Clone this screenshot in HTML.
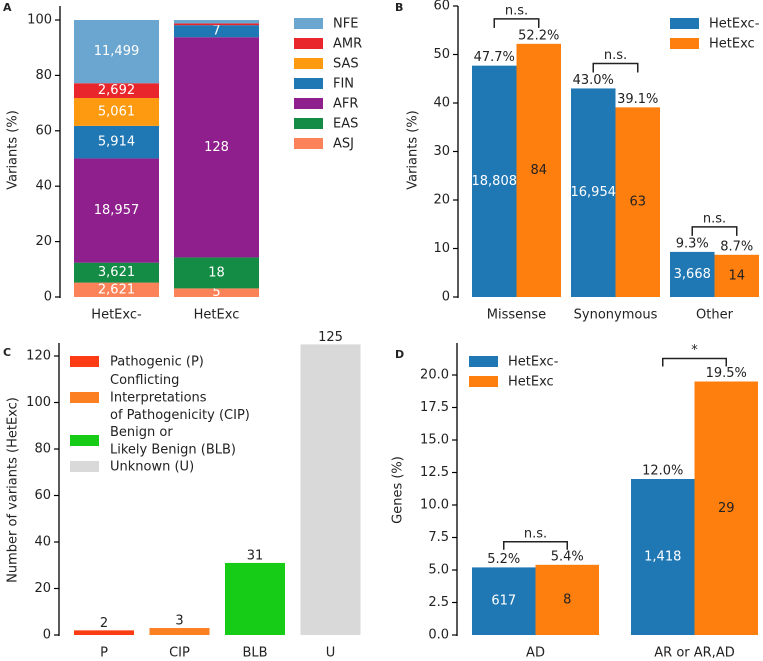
<!DOCTYPE html>
<html><head><meta charset="utf-8"><style>
body{margin:0;background:#fff}
svg{display:block;font-family:"DejaVu Sans","Liberation Sans",sans-serif}
</style></head><body>
<svg id="s" width="763" height="661" viewBox="0 0 763 661"></svg>
<script>
// Panel A data
const popNames=["ASJ","EAS","AFR","FIN","SAS","AMR","NFE"];
const popColors=["#fc8359","#148c45","#8e1f8c","#1f77b4","#fd9a0f","#e8262b","#6aa6cf"];
const groupsA=["HetExc-","HetExc"];
const countsNeg=[2621,3621,18957,5914,5061,2692,11499];
const countsPos=[5,18,128,7,0,1,2];
const showPos=[true,true,true,true,false,false,false];
// Panel B data
const catsB=["Missense","Synonymous","Other"];
const pctNegB=[47.7,43.0,9.3];
const pctPosB=[52.2,39.1,8.7];
const cntNegB=["18,808","16,954","3,668"];
const cntPosB=["84","63","14"];
const sigB=["n.s.","n.s.","n.s."];
const ticksB=[0,10,20,30,40,50,60];
// Panel C data
const catsC=["P","CIP","BLB","U"];
const valsC=[2,3,31,125];
const colC=["#fb3c14","#fc7f22","#16cc16","#d9d9d9"];
const ticksC=[0,20,40,60,80,100,120];
// Panel D data
const catsD=["AD","AR or AR,AD"];
const pctNegD=[5.2,12.0];
const pctPosD=[5.4,19.5];
const cntNegD=["617","1,418"];
const cntPosD=["8","29"];
const sigD=["n.s.","*"];
const ticksD=[0,2.5,5,7.5,10,12.5,15,17.5,20];
const ticksA=[0,20,40,60,80,100];

const S=document.getElementById('s');
const NS="http://www.w3.org/2000/svg";
function el(t,a,txt){const e=document.createElementNS(NS,t);for(const k in a)e.setAttribute(k,a[k]);if(txt!==undefined)e.textContent=txt;S.appendChild(e);return e;}
function txt(x,y,s,o){o=o||{};const e=el('text',{x:x,y:y,'font-size':o.fs||13,fill:o.fill||'#222','text-anchor':o.a||'middle','dominant-baseline':o.b||'middle','font-weight':o.w||'normal'},s);if(o.rot)e.setAttribute('transform','rotate(-90 '+x+' '+y+')');return e;}
function yaxis(x,y0,y1,ticks,scale,fmt,name){
  const l=el('line',{x1:x,y1:y0+1,x2:x,y2:y1,stroke:'#000','stroke-width':1.3});
  
  ticks.forEach(t=>{const y=scale(t);el('line',{x1:x-5,y1:y,x2:x,y2:y,stroke:'#000','stroke-width':1.2});
    const tt=txt(x-8,y,fmt(t),{a:'end'});});
}
function rect(x,y,w,h,c,name){const r=el('rect',{x:x,y:y,width:w,height:Math.max(0,h),fill:c});return r;}
function bracket(x1,x2,yTop,yTip,label,name){
  const p=el('path',{d:`M${x1},${yTip}V${yTop}H${x2}V${yTip}`,fill:'none',stroke:'#222','stroke-width':1.5});
  
  txt((x1+x2)/2,yTop-8,label);
}
// Panel letters
[['A',3,8],['B',395,8],['C',3,353],['D',395,355]].forEach(p=>{const t=txt(p[1],p[2],p[0],{a:'start',w:'bold',fs:11});});

// ---- Panel A ----
const yA=v=>297-v*2.77;
yaxis(60,297,6,ticksA,yA,v=>v,'panel-a');
txt(13,150,'Variants (%)',{rot:1});
[countsNeg,countsPos].forEach((cs,gi)=>{
  const tot=cs.reduce((a,b)=>a+b,0);const x=74+gi*100,w=85;let cum=0;
  cs.forEach((c,i)=>{const p=c/tot*100;const yt=yA(cum+p),yb=yA(cum);
    if(c>0)rect(x,yt,w,yb-yt,popColors[i],'bar-a-'+groupsA[gi].toLowerCase()+'-'+popNames[i].toLowerCase());
    if(c>0&&(gi==0||showPos[i])){const t=txt(x+w/2,(yt+yb)/2,c.toLocaleString('en-US'),{fill:'#fff'});}
    cum+=p;});
  txt(x+w/2,315,groupsA[gi]);
});
popNames.slice().reverse().forEach((n,i)=>{const c=popColors[popNames.length-1-i];const y=24+i*20;
  const r=rect(294,y-6,29,11,c,'legend-swatch-'+n.toLowerCase());
  const t=txt(333,y,n,{a:'start'});});

// ---- Panel B ----
const yB=v=>297-v*4.85;
yaxis(458,297,6,ticksB,yB,v=>v,'panel-b');
txt(413,150,'Variants (%)',{rot:1});
catsB.forEach((c,i)=>{const x=472+i*99,w=44.5;
  rect(x,yB(pctNegB[i]),w,yB(0)-yB(pctNegB[i]),'#1f77b4','bar-b-hetexc-neg-'+c.toLowerCase());
  rect(x+w,yB(pctPosB[i]),w,yB(0)-yB(pctPosB[i]),'#ff7f0e','bar-b-hetexc-'+c.toLowerCase());
  txt(x+w/2,yB(pctNegB[i])-8,pctNegB[i].toFixed(1)+'%');
  txt(x+w*1.5,yB(pctPosB[i])-8,pctPosB[i].toFixed(1)+'%');
  txt(x+w/2,yB(pctNegB[i]/2),cntNegB[i],{fill:'#fff'});
  txt(x+w*1.5,yB(pctPosB[i]/2),cntPosB[i],{fill:'#222'});
  const top=yB(Math.max(pctNegB[i],pctPosB[i]))-25;
  bracket(x+w/2,x+w*1.5,top,top+9,sigB[i],'significance-bracket-b');
  txt(x+w,315,c);
});
[['HetExc-','#1f77b4'],['HetExc','#ff7f0e']].forEach((l,i)=>{const y=24+i*20;rect(670,y-6,29,11,l[1],'legend-swatch-b');
  const t=txt(709,y,l[0],{a:'start'});});

// ---- Panel C ----
const yC=v=>635-v*2.325;
yaxis(59,635,343,ticksC,yC,v=>v,'panel-c');
txt(13,490,'Number of variants (HetExc)',{rot:1});
catsC.forEach((c,i)=>{const x=74+i*75.5,w=60;
  rect(x,yC(valsC[i]),w,yC(0)-yC(valsC[i]),colC[i],'bar-c-'+c.toLowerCase());
  txt(x+w/2,yC(valsC[i])-7,String(valsC[i]));
  txt(x+w/2,653,c);});
const legC=[[362,['Pathogenic (P)']],[398,['Conflicting','Interpretations','of Pathogenicity (CIP)']],[441,['Benign or','Likely Benign (BLB)']],[467,['Unknown (U)']]];
legC.forEach((l,i)=>{rect(70,l[0]-6,29,11,colC[i],'legend-swatch-c-'+catsC[i].toLowerCase());
  l[1].forEach((s,j)=>{const t=txt(110,l[0]+(j-(l[1].length-1)/2)*17.5,s,{a:'start'});});});

// ---- Panel D ----
const yD=v=>635-v*13;
yaxis(457,635,343,ticksD,yD,v=>v.toFixed(1),'panel-d');
txt(398,490,'Genes (%)',{rot:1});
catsD.forEach((c,i)=>{const x=472+i*159,w=63.5;
  rect(x,yD(pctNegD[i]),w,yD(0)-yD(pctNegD[i]),'#1f77b4','bar-d-hetexc-neg-'+i);
  rect(x+w,yD(pctPosD[i]),w,yD(0)-yD(pctPosD[i]),'#ff7f0e','bar-d-hetexc-'+i);
  txt(x+w/2,yD(pctNegD[i])-8,pctNegD[i].toFixed(1)+'%');
  txt(x+w*1.5,yD(pctPosD[i])-8,pctPosD[i].toFixed(1)+'%');
  txt(x+w/2,yD(pctNegD[i]/2),cntNegD[i],{fill:'#fff'});
  txt(x+w*1.5,yD(pctPosD[i]/2),cntPosD[i],{fill:'#222'});
  const top=yD(Math.max(pctNegD[i],pctPosD[i]))-23;
  bracket(x+w/2,x+w*1.5,top,top+8,sigD[i],'significance-bracket-d');
  txt(x+w,653,c);});
[['HetExc-','#1f77b4'],['HetExc','#ff7f0e']].forEach((l,i)=>{const y=362+i*20;rect(469,y-6,29,11,l[1],'legend-swatch-d');
  const t=txt(508,y,l[0],{a:'start'});});
</script>
</body></html>
